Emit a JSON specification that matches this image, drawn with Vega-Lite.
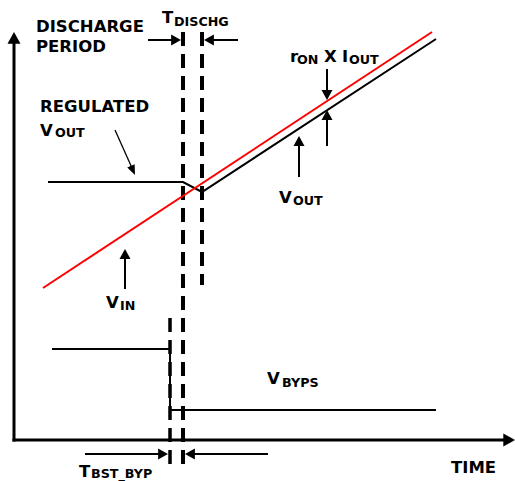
{
  "$schema": "https://vega.github.io/schema/vega-lite/v6.json",
  "width": 515,
  "height": 481,
  "autosize": {"type": "fit", "contains": "padding"},
  "padding": 0,
  "background": "white",
  "config": {"view": {"stroke": null}},
  "datasets": {
    "axes": [
      {"x": 14, "y": 40, "x2": 14, "y2": 440},
      {"x": 14, "y": 440, "x2": 508, "y2": 440}
    ],
    "signals": [
      {"id": "VOUT", "o": 1, "x": 48, "y": 182},
      {"id": "VOUT", "o": 2, "x": 183, "y": 182},
      {"id": "VOUT", "o": 3, "x": 202, "y": 192},
      {"id": "VOUT", "o": 4, "x": 436, "y": 39},
      {"id": "VBYPS", "o": 1, "x": 52, "y": 349},
      {"id": "VBYPS", "o": 2, "x": 170, "y": 349},
      {"id": "VBYPS", "o": 3, "x": 170, "y": 410},
      {"id": "VBYPS", "o": 4, "x": 436, "y": 410}
    ],
    "vin": [
      {"id": "VIN", "o": 1, "x": 43, "y": 288},
      {"id": "VIN", "o": 2, "x": 432, "y": 32}
    ],
    "shafts": [
      {"x": 148, "y": 40, "x2": 176, "y2": 40},
      {"x": 209, "y": 40, "x2": 238, "y2": 40},
      {"x": 327, "y": 69, "x2": 327, "y2": 93},
      {"x": 327, "y": 117, "x2": 327, "y2": 146},
      {"x": 299, "y": 143, "x2": 299, "y2": 177},
      {"x": 125, "y": 256, "x2": 125, "y2": 289},
      {"x": 85, "y": 454, "x2": 160, "y2": 454},
      {"x": 192, "y": 454, "x2": 268, "y2": 454}
    ],
    "pointer": [
      {"x": 115, "y": 130, "x2": 132, "y2": 168}
    ],
    "dashWide": [
      {"x": 183, "y": 32, "x2": 183, "y2": 470},
      {"x": 202, "y": 32, "x2": 202, "y2": 285}
    ],
    "dashNarrow": [
      {"x": 170, "y": 318, "x2": 170, "y2": 472}
    ],
    "heads": [
      {"dir": "right", "x": 181, "y": 40},
      {"dir": "left", "x": 204, "y": 40},
      {"dir": "down", "x": 327, "y": 100},
      {"dir": "up", "x": 327, "y": 110},
      {"dir": "up", "x": 299, "y": 136},
      {"dir": "up", "x": 125, "y": 249},
      {"dir": "right", "x": 168, "y": 454},
      {"dir": "left", "x": 185, "y": 454},
      {"dir": "diag", "x": 135, "y": 175}
    ],
    "axisHeads": [
      {"dir": "up", "x": 14, "y": 32},
      {"dir": "right", "x": 515, "y": 440}
    ],
    "mainText": [
      {"t": "DISCHARGE", "x": 36, "y": 32},
      {"t": "PERIOD", "x": 36, "y": 52},
      {"t": "T", "x": 162, "y": 23},
      {"t": "REGULATED", "x": 40, "y": 112},
      {"t": "V", "x": 40, "y": 136},
      {"t": "r", "x": 290, "y": 62},
      {"t": "X", "x": 324, "y": 62},
      {"t": "I", "x": 342, "y": 62},
      {"t": "V", "x": 279, "y": 203},
      {"t": "V", "x": 106, "y": 308},
      {"t": "V", "x": 267, "y": 384},
      {"t": "T", "x": 79, "y": 477},
      {"t": "TIME", "x": 451, "y": 473}
    ],
    "subText": [
      {"t": "DISCHG", "x": 174, "y": 26},
      {"t": "OUT", "x": 55, "y": 137},
      {"t": "ON", "x": 297, "y": 64},
      {"t": "OUT", "x": 349, "y": 64},
      {"t": "OUT", "x": 293, "y": 205},
      {"t": "IN", "x": 120, "y": 310},
      {"t": "BYPS", "x": 282, "y": 387},
      {"t": "BST_BYP", "x": 91, "y": 478}
    ]
  },
  "layer": [
    {
      "data": {"name": "dashWide"},
      "mark": {"type": "rule", "color": "black", "strokeWidth": 4, "strokeDash": [14, 8]},
      "encoding": {
        "x": {"field": "x", "type": "quantitative", "scale": {"domain": [0, 515], "nice": false, "zero": false}, "axis": null},
        "y": {"field": "y", "type": "quantitative", "scale": {"domain": [0, 481], "reverse": true, "nice": false, "zero": false}, "axis": null},
        "x2": {"field": "x2"},
        "y2": {"field": "y2"}
      }
    },
    {
      "data": {"name": "dashNarrow"},
      "mark": {"type": "rule", "color": "black", "strokeWidth": 3.5, "strokeDash": [14, 8]},
      "encoding": {
        "x": {"field": "x", "type": "quantitative"},
        "y": {"field": "y", "type": "quantitative"},
        "x2": {"field": "x2"},
        "y2": {"field": "y2"}
      }
    },
    {
      "data": {"name": "axes"},
      "mark": {"type": "rule", "color": "black", "strokeWidth": 3, "strokeCap": "square"},
      "encoding": {
        "x": {"field": "x", "type": "quantitative"},
        "y": {"field": "y", "type": "quantitative"},
        "x2": {"field": "x2"},
        "y2": {"field": "y2"}
      }
    },
    {
      "data": {"name": "signals"},
      "mark": {"type": "line", "color": "black", "strokeWidth": 2},
      "encoding": {
        "x": {"field": "x", "type": "quantitative"},
        "y": {"field": "y", "type": "quantitative"},
        "detail": {"field": "id"},
        "order": {"field": "o"}
      }
    },
    {
      "data": {"name": "vin"},
      "mark": {"type": "line", "color": "#ff0000", "strokeWidth": 2},
      "encoding": {
        "x": {"field": "x", "type": "quantitative"},
        "y": {"field": "y", "type": "quantitative"},
        "detail": {"field": "id"},
        "order": {"field": "o"}
      }
    },
    {
      "data": {"name": "shafts"},
      "mark": {"type": "rule", "color": "black", "strokeWidth": 2},
      "encoding": {
        "x": {"field": "x", "type": "quantitative"},
        "y": {"field": "y", "type": "quantitative"},
        "x2": {"field": "x2"},
        "y2": {"field": "y2"}
      }
    },
    {
      "data": {"name": "pointer"},
      "mark": {"type": "rule", "color": "black", "strokeWidth": 1.3},
      "encoding": {
        "x": {"field": "x", "type": "quantitative"},
        "y": {"field": "y", "type": "quantitative"},
        "x2": {"field": "x2"},
        "y2": {"field": "y2"}
      }
    },
    {
      "data": {"name": "heads"},
      "mark": {"type": "point", "filled": true, "color": "black", "opacity": 1, "size": 121, "strokeWidth": 0},
      "encoding": {
        "x": {"field": "x", "type": "quantitative"},
        "y": {"field": "y", "type": "quantitative"},
        "shape": {
          "field": "dir", "type": "nominal", "legend": null,
          "scale": {
            "domain": ["up", "down", "left", "right", "diag"],
            "range": ["M0,0L-1,1.8L1,1.8Z", "M0,0L-1,-1.8L1,-1.8Z", "M0,0L1.8,-1L1.8,1Z", "M0,0L-1.8,-1L-1.8,1Z", "M0,0L-1.41,-1.37L-0.07,-1.96Z"]
          }
        }
      }
    },
    {
      "data": {"name": "axisHeads"},
      "mark": {"type": "point", "filled": true, "color": "black", "opacity": 1, "size": 169, "strokeWidth": 0},
      "encoding": {
        "x": {"field": "x", "type": "quantitative"},
        "y": {"field": "y", "type": "quantitative"},
        "shape": {"field": "dir", "type": "nominal", "legend": null}
      }
    },
    {
      "data": {"name": "mainText"},
      "mark": {"type": "text", "align": "left", "baseline": "alphabetic", "font": "DejaVu Sans", "fontWeight": "bold", "fontSize": 16.5, "color": "black"},
      "encoding": {
        "x": {"field": "x", "type": "quantitative"},
        "y": {"field": "y", "type": "quantitative"},
        "text": {"field": "t"}
      }
    },
    {
      "data": {"name": "subText"},
      "mark": {"type": "text", "align": "left", "baseline": "alphabetic", "font": "DejaVu Sans", "fontWeight": "bold", "fontSize": 12.7, "color": "black"},
      "encoding": {
        "x": {"field": "x", "type": "quantitative"},
        "y": {"field": "y", "type": "quantitative"},
        "text": {"field": "t"}
      }
    }
  ]
}
